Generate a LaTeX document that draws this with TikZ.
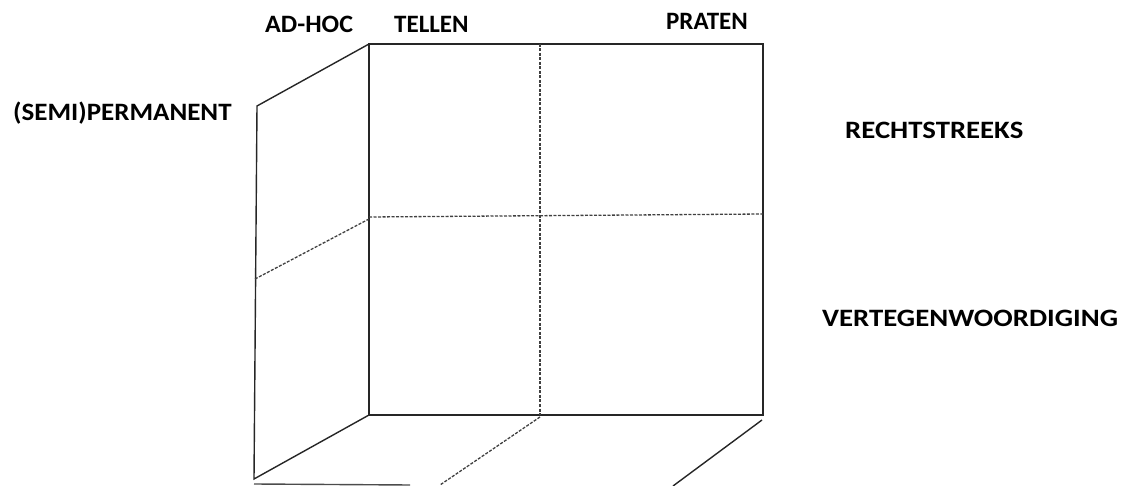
\documentclass[tikz,border=0pt]{standalone}
\usepackage{fontspec}
\setmainfont{Carlito}
% horizontally stretched label text
\newcommand{\stretched}[2]{\scalebox{#1}[1]{#2}}
\begin{document}
\begin{tikzpicture}[x=1pt,y=-1pt,
  edge/.style={line width=1.4pt,draw=black!85},
  hidden/.style={line width=1.3pt,draw=black!75,dash pattern=on 3pt off 1.5pt},
  lbl/.style={inner sep=0pt,font=\fontsize{25}{30}\selectfont\bfseries}]
\useasboundingbox (0,0) rectangle (1128,486);
% front face corners
\coordinate (ftl) at (369,44);
\coordinate (ftr) at (763,44);
\coordinate (fbl) at (369,415);
\coordinate (fbr) at (763,415);
\coordinate (ftm) at (540,44);
\coordinate (fbm) at (540,415);
\coordinate (fml) at (369,217);
\coordinate (fmr) at (763,214);
% left receding edge
\coordinate (btl) at (257,106);
\coordinate (bbl) at (254,479);
\coordinate (bml) at (255,279);
\coordinate (fml2) at (369,219);
% bottom receding lines
\coordinate (bb0) at (254,484);
\coordinate (bb1) at (410,485);
\coordinate (fbm2) at (540,417);
\coordinate (bbm) at (440,485);
\coordinate (fbr2) at (762,420);
\coordinate (bbr) at (673,486);
% front face
\draw[edge] (ftl) rectangle (fbr);
\draw[hidden] (ftm) -- (fbm);
\draw[hidden] (fml) -- (fmr);
% side face
\draw[edge] (ftl) -- (btl) -- (bbl) -- (fbl);
\draw[hidden] (bml) -- (fml2);
% floor
\draw[edge,draw=black!70] (bb0) -- (bb1);
\draw[hidden] (fbm2) -- (bbm);
\draw[edge] (fbr2) -- (bbr);
% labels
\node[lbl,anchor=base west] (adhoc) at (265,33) {\stretched{1.04}{AD-HOC}};
\node[lbl,anchor=base west] (tellen) at (394,33) {TELLEN};
\node[lbl,anchor=base east] (praten) at (748,30) {PRATEN};
\node[lbl,anchor=base west] (semi) at (13,121) {\stretched{1.08}{(SEMI)PERMANENT}};
\node[lbl,anchor=base west] (recht) at (845,139) {\stretched{1.15}{RECHTSTREEKS}};
\node[lbl,anchor=base west] (verteg) at (822,327) {\stretched{1.15}{VERTEGENWOORDIGING}};
\end{tikzpicture}
\end{document}
